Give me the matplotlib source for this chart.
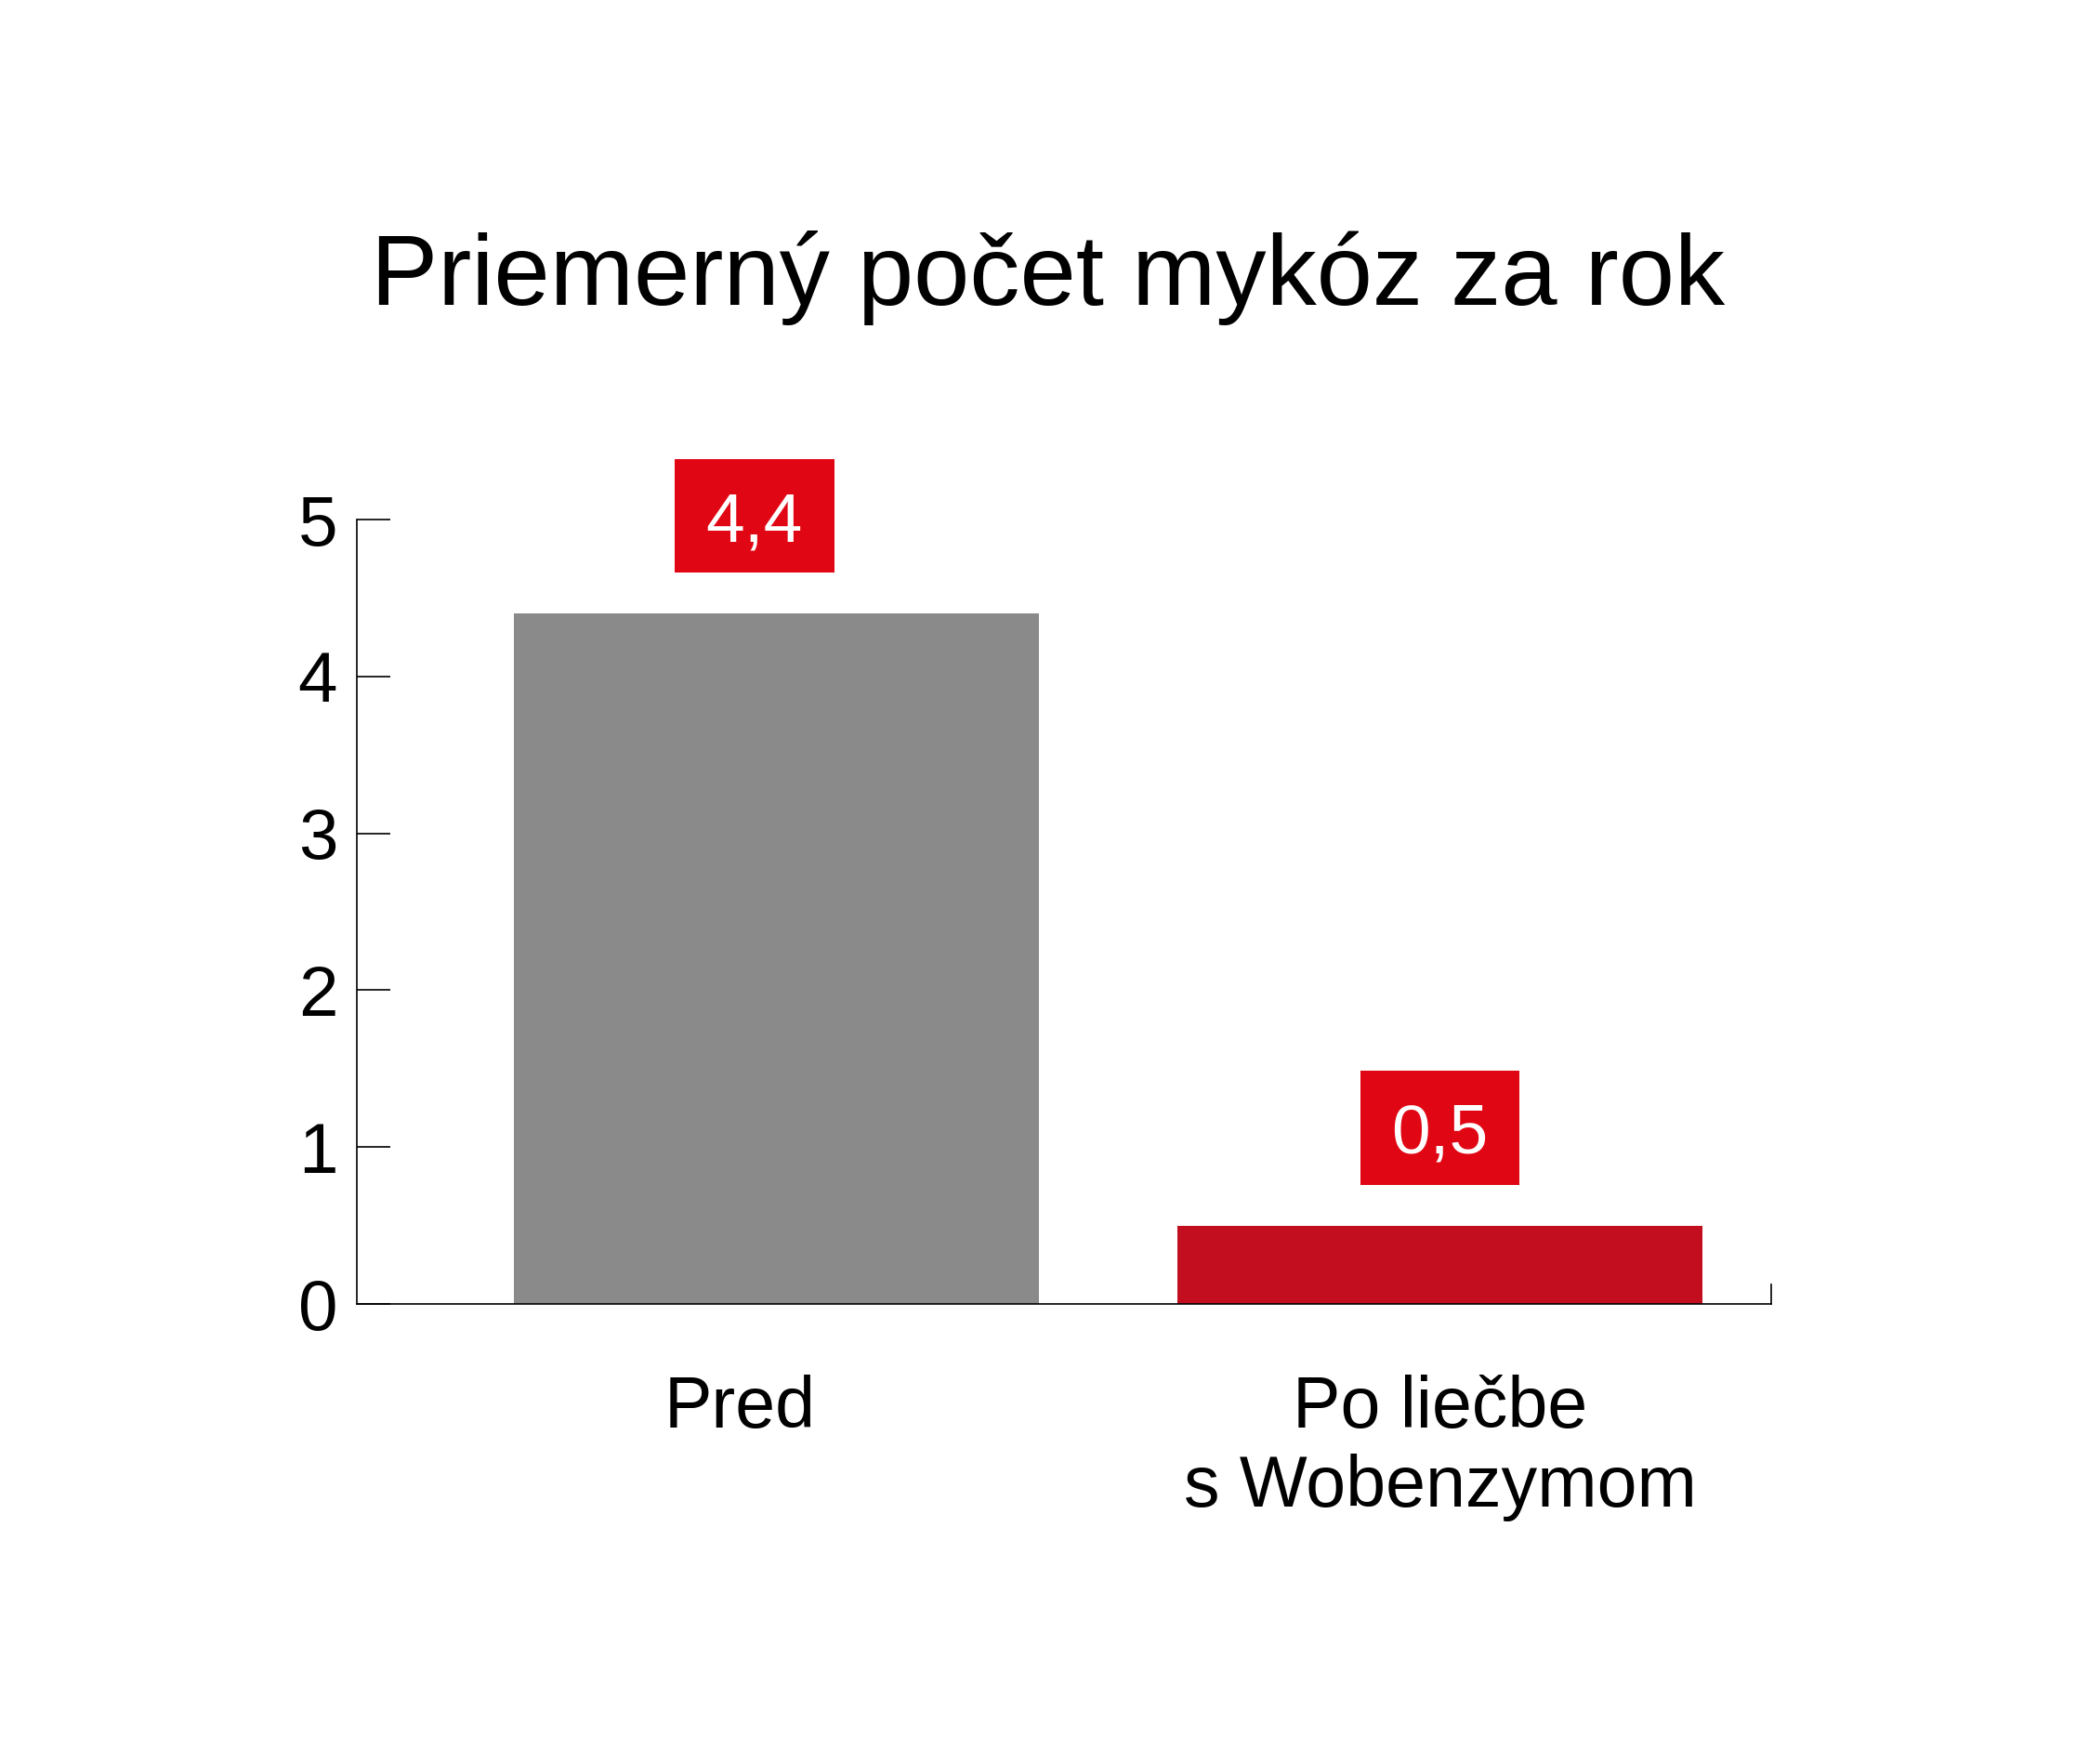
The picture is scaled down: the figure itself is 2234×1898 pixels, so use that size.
import matplotlib
matplotlib.use("Agg")
import matplotlib.pyplot as plt
from matplotlib.patches import Rectangle

plt.rcParams['font.family'] = ['Liberation Sans', 'DejaVu Sans']

title = "Priemerný počet mykóz za rok"
categories = ["Pred", "Po liečbe\ns Wobenzymom"]
values = [4.4, 0.5]
value_labels = ["4,4", "0,5"]
bar_colors = ["#8a8a8a", "#c20e1f"]
box_color = "#e10613"
yticks = [0, 1, 2, 3, 4, 5]

fig = plt.figure(figsize=(22.34, 18.98), dpi=100)
ax = fig.add_axes([384 / 2234, 1 - 1403 / 1898, 1522 / 2234, 844 / 1898])

x = list(range(len(categories)))
bar_w = 0.792
ax.bar(x, values, width=bar_w, color=bar_colors, zorder=2)

ax.set_xlim(-0.632, 1.499)
ax.set_ylim(0, 5)
ax.set_yticks(yticks)
ax.set_yticklabels([str(t) for t in yticks])
ax.set_xticks([])
ax.tick_params(axis='y', direction='in', length=26, width=1.2, pad=15,
               labelsize=55, colors='black')
for s in ['top', 'right']:
    ax.spines[s].set_visible(False)
for s in ['left', 'bottom']:
    ax.spines[s].set_linewidth(1.2)
    ax.spines[s].set_color('black')
ax.axvline(ax.get_xlim()[1], ymin=0, ymax=0.025, color='black', lw=1.2, clip_on=False)

# value boxes
box_w, box_h, gap = 0.240, 0.727, 0.26
box_off = [-0.033, 0.0]
for xi, v, lab, off in zip(x, values, value_labels, box_off):
    cx = xi + off
    ax.add_patch(Rectangle((cx - box_w / 2, v + gap), box_w, box_h,
                           facecolor=box_color, edgecolor='none', clip_on=False, zorder=3))
    ax.text(cx, v + gap + box_h / 2, lab, ha='center', va='center_baseline',
            color='white', fontsize=54, zorder=4, clip_on=False)

# category labels
cat_off = [-0.055, 0.0]
for xi, cat, off in zip(x, categories, cat_off):
    for k, line in enumerate(cat.split("\n")):
        ax.annotate(line, xy=(xi + off, 0), xycoords='data',
                    xytext=(0, -95.8 - 61.2 * k), textcoords='offset points',
                    ha='center', va='baseline', fontsize=55.5, color='black',
                    annotation_clip=False)

fig.text(1128 / 2234, 1 - 328 / 1898, title, ha='center', va='baseline',
         fontsize=78, color='black')

fig.savefig("out.png", dpi=100, facecolor='white')
